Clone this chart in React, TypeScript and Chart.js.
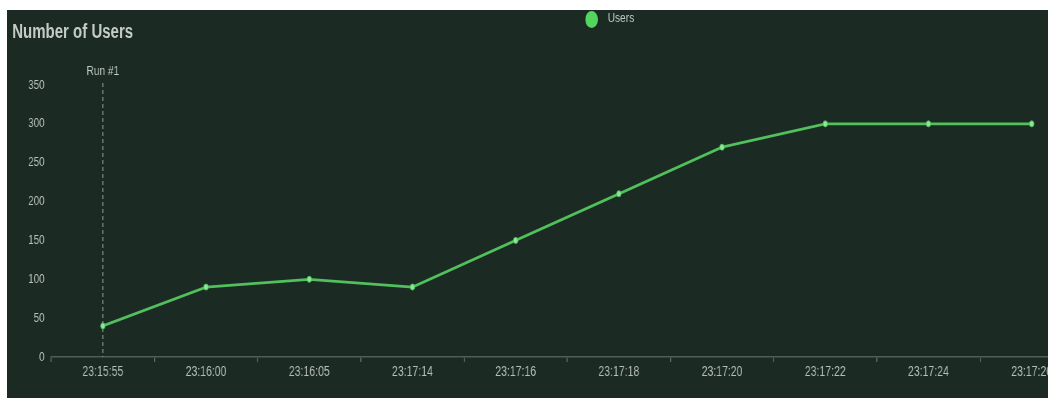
import React, { useEffect, useRef } from "react";
import { Chart, registerables } from "chart.js";

Chart.register(...registerables);

// ---- data ----
const categories = [
  "23:15:55",
  "23:16:00",
  "23:16:05",
  "23:17:14",
  "23:17:16",
  "23:17:18",
  "23:17:20",
  "23:17:22",
  "23:17:24",
  "23:17:26",
];
const users = [40, 90, 100, 90, 150, 210, 270, 300, 300, 300];
const yMin = 0;
const yMax = 350;
const yStep = 50;
const chartTitle = "Number of Users";
const seriesLabel = "Users";
const markerLabel = "Run #1";
const markerIndex = 0;

// ---- styling ----
const SX = 0.75; // horizontal squeeze of the reference picture
const W = 1440;
const H = 388;
const BG = "#1b2a23";
const GREEN = "#52c05d";
const FONT = "'Liberation Sans', Arial, Helvetica, sans-serif";

const runMarker = {
  id: "runMarker",
  beforeDatasetsDraw(chart: any) {
    const { ctx, chartArea, scales } = chart;
    const x = scales.x.getPixelForValue(markerIndex);
    ctx.save();
    ctx.strokeStyle = "#7f8c86";
    ctx.lineWidth = 1.4;
    ctx.setLineDash([4, 3]);
    ctx.beginPath();
    ctx.moveTo(x, chartArea.top - 2);
    ctx.lineTo(x, chartArea.bottom);
    ctx.stroke();
    ctx.setLineDash([]);
    ctx.fillStyle = "#c4ccc7";
    ctx.font = `13.5px ${FONT}`;
    ctx.textAlign = "center";
    ctx.textBaseline = "middle";
    ctx.fillText(markerLabel, x, chartArea.top - 14);
    ctx.restore();
  },
};

export default function App() {
  const ref = useRef<HTMLCanvasElement | null>(null);

  useEffect(() => {
    if (!ref.current) return;
    const chart = new Chart(ref.current, {
      type: "line",
      data: {
        labels: categories,
        datasets: [
          {
            label: seriesLabel,
            data: users,
            borderColor: GREEN,
            backgroundColor: "#8ce896",
            pointBackgroundColor: "#8ce896",
            pointBorderColor: GREEN,
            borderWidth: 2.8,
            pointRadius: 3,
            pointBorderWidth: 1,
            tension: 0,
            fill: false,
          },
        ],
      },
      options: {
        responsive: false,
        animation: false,
        layout: { padding: { top: 75, left: 0, right: 0, bottom: 0 } },
        plugins: {
          legend: { display: false },
          title: { display: false },
          tooltip: { enabled: false },
        },
        scales: {
          x: {
            type: "category",
            offset: true,
            grid: {
              display: true,
              offset: true,
              drawOnChartArea: false,
              drawTicks: true,
              tickLength: 5,
              color: "#5f6e67",
              lineWidth: 1.5,
            },
            border: { display: true, color: "#4f5e57", width: 1.6 },
            ticks: {
              color: "#b6beb9",
              font: { family: FONT, size: 14 },
              padding: 2,
              maxRotation: 0,
              autoSkip: false,
            },
            afterFit: (s: any) => {
              s.height = 41;
            },
          },
          y: {
            min: yMin,
            max: yMax,
            grid: { display: false, drawTicks: false },
            border: { display: false },
            ticks: {
              stepSize: yStep,
              color: "#b9c1bc",
              font: { family: FONT, size: 13 },
              padding: 9,
            },
            afterFit: (s: any) => {
              s.width = 59;
            },
          },
        },
      },
      plugins: [runMarker],
    });
    return () => chart.destroy();
  }, []);

  return (
    <div
      style={{
        position: "fixed",
        left: 7,
        top: 10,
        width: 1041,
        height: H,
        overflow: "hidden",
        background: BG,
      }}
    >
      <div
        style={{
          position: "absolute",
          left: 0,
          top: 0,
          width: W,
          height: H,
          transform: `scaleX(${SX})`,
          transformOrigin: "0 0",
        }}
      >
        <canvas ref={ref} width={W} height={H} style={{ display: "block" }} />
        <div
          style={{
            position: "absolute",
            left: 7,
            top: 11,
            fontFamily: FONT,
            fontWeight: "bold",
            fontSize: 20,
            lineHeight: "20px",
            color: "#c3ccc6",
            whiteSpace: "nowrap",
          }}
        >
          {chartTitle}
        </div>
        <div
          style={{
            position: "absolute",
            left: 771,
            top: 1,
            display: "flex",
            alignItems: "flex-start",
            whiteSpace: "nowrap",
          }}
        >
          <span
            style={{
              display: "inline-block",
              width: 17,
              height: 17,
              borderRadius: "50%",
              background: "#52d65f",
            }}
          />
          <span
            style={{
              marginLeft: 13,
              fontFamily: FONT,
              fontSize: 13.5,
              lineHeight: "14px",
              color: "#c0c8c3",
            }}
          >
            {seriesLabel}
          </span>
        </div>
      </div>
    </div>
  );
}
